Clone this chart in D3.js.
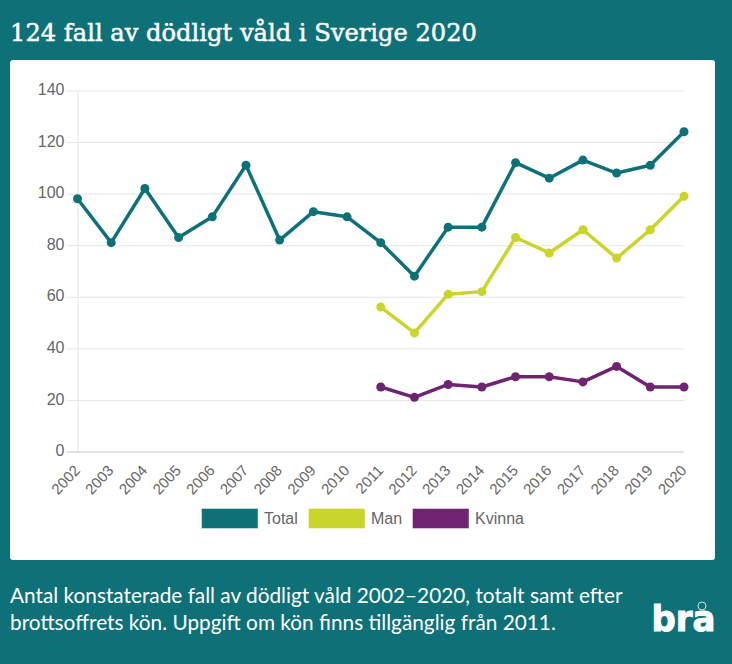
<!DOCTYPE html>
<html>
<head>
<meta charset="utf-8">
<script src="https://cdnjs.cloudflare.com/ajax/libs/d3/7.8.5/d3.min.js"></script>
<style>
html, body { margin: 0; padding: 0; background: #0e7178; }
svg { display: block; }
</style>
</head>
<body>
<div id="chart"></div>
<script>
const years = ["2002","2003","2004","2005","2006","2007","2008","2009","2010","2011","2012","2013","2014","2015","2016","2017","2018","2019","2020"];
const total = [98,81,102,83,91,111,82,93,91,81,68,87,87,112,106,113,108,111,124];
const man = [null,null,null,null,null,null,null,null,null,56,46,61,62,83,77,86,75,86,99];
const kvinna = [null,null,null,null,null,null,null,null,null,25,21,26,25,29,29,27,33,25,25];
const yTicks = [0,20,40,60,80,100,120,140];
const seriesNames = ["Total","Man","Kvinna"];
const seriesColors = ["#0e7178","#c9d52a","#6f2470"];
const titleText = "124 fall av dödligt våld i Sverige 2020";
const captionLines = [
    "Antal konstaterade fall av dödligt våld 2002–2020, totalt samt efter",
    "brottsoffrets kön. Uppgift om kön finns tillgänglig från 2011."
];

const width = 732, height = 664;
const svg = d3.select("#chart").append("svg")
    .attr("width", width)
    .attr("height", height);

svg.append("text")
    .attr("x", 10)
    .attr("y", 41)
    .attr("font-family", "DejaVu Serif")
    .attr("font-size", 24)
    .attr("textLength", 467)
    .attr("lengthAdjust", "spacingAndGlyphs")
    .attr("fill", "#fff")
    .attr("stroke", "#fff")
    .attr("stroke-width", 0.5)
    .text(titleText);

svg.append("rect")
    .attr("x", 10)
    .attr("y", 60)
    .attr("width", 705)
    .attr("height", 500)
    .attr("rx", 3)
    .attr("fill", "#fff");

const x = d3.scalePoint().domain(years).range([77.5, 684]);
const y = d3.scaleLinear().domain([0, 140]).range([451.5, 90.5]);

// y axis with full width grid lines
const yAxis = svg.append("g")
    .attr("transform", "translate(77.5,0)")
    .call(d3.axisLeft(y).tickValues(yTicks).tickSize(0).tickPadding(13));
yAxis.select(".domain").attr("stroke", "#e4e4e4");
yAxis.selectAll(".tick text")
    .attr("font-family", "Liberation Sans")
    .attr("font-size", 16)
    .attr("y", -1)
    .attr("fill", "#666");
yAxis.selectAll(".tick").append("line")
    .attr("x1", -11)
    .attr("x2", 684 - 77.5)
    .attr("stroke", d => d === 0 ? "#c4c4c4" : "#e6e6e6");

const xAxis = svg.append("g")
    .attr("transform", "translate(0,451.5)")
    .call(d3.axisBottom(x).tickSize(0).tickPadding(0));
xAxis.select(".domain").remove();
xAxis.selectAll(".tick text")
    .attr("font-family", "Liberation Sans")
    .attr("font-size", 15)
    .attr("fill", "#666")
    .attr("text-anchor", "end")
    .attr("x", 0)
    .attr("y", 0)
    .attr("dy", "0.35em")
    .attr("transform", "translate(-1,16) rotate(-47)");

const line = d3.line()
    .defined(d => d != null)
    .x((d, i) => x(years[i]))
    .y(d => y(d));

[total, man, kvinna].forEach((values, s) => {
    svg.append("path")
        .datum(values)
        .attr("d", line)
        .attr("fill", "none")
        .attr("stroke", seriesColors[s])
        .attr("stroke-width", 3.5)
        .attr("stroke-linejoin", "round");

    svg.append("g").selectAll("circle")
        .data(values.map((v, i) => ({ year: years[i], v })).filter(d => d.v != null))
        .enter().append("circle")
        .attr("cx", d => x(d.year))
        .attr("cy", d => y(d.v))
        .attr("r", 4.5)
        .attr("fill", seriesColors[s]);
});

// legend
const legendX = d3.scaleOrdinal().domain(seriesNames).range([201, 308, 412]);
const legend = svg.append("g").selectAll("g")
    .data(seriesNames)
    .enter().append("g")
    .attr("transform", d => `translate(${legendX(d)},508)`);
legend.append("rect")
    .attr("x", 0.5)
    .attr("y", 0.5)
    .attr("width", 56.5)
    .attr("height", 20)
    .attr("fill", (d, i) => seriesColors[i])
    .attr("stroke", "#fff")
    .attr("stroke-opacity", 0.45);
legend.append("text")
    .attr("x", 63)
    .attr("y", 15.5)
    .attr("font-family", "Liberation Sans")
    .attr("font-size", 16)
    .attr("fill", "#666")
    .text(d => d);

svg.append("g").selectAll("text")
    .data(captionLines)
    .enter().append("text")
    .attr("x", 10)
    .attr("y", (d, i) => 603 + i * 27)
    .attr("font-family", "Lato")
    .attr("font-size", 20.8)
    .attr("fill", "#fff")
    .text(d => d);

// logo
svg.append("text")
    .attr("x", 651.5)
    .attr("y", 631)
    .attr("font-family", "DejaVu Sans")
    .attr("font-weight", 700)
    .attr("font-size", 35)
    .attr("textLength", 64)
    .attr("lengthAdjust", "spacingAndGlyphs")
    .attr("fill", "#fff")
    .attr("stroke", "#fff")
    .attr("stroke-width", 1)
    .text("bra");
svg.append("circle")
    .attr("cx", 702)
    .attr("cy", 606)
    .attr("r", 4)
    .attr("fill", "none")
    .attr("stroke", "#cfe3e4")
    .attr("stroke-width", 1);
</script>
</body>
</html>
